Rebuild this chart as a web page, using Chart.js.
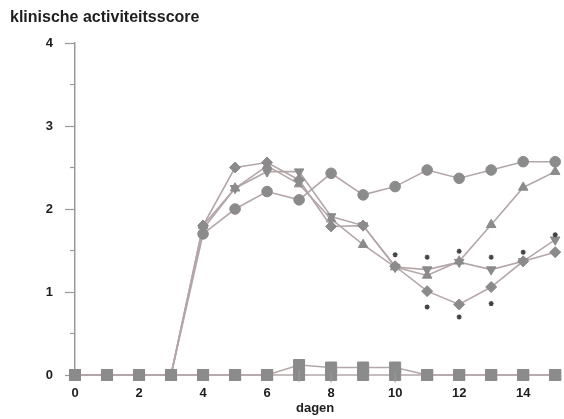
<!DOCTYPE html>
<html lang="nl">
<head>
<meta charset="utf-8">
<title>klinische activiteitsscore</title>
<script src="https://cdn.jsdelivr.net/npm/chart.js@4.4.1/dist/chart.umd.min.js"></script>
<style>
  html, body { margin: 0; padding: 0; background: #fff; }
  #wrap { position: relative; width: 564px; height: 419px; }
  #titel {
    position: absolute; left: 10px; top: 8px;
    font: bold 16px "Liberation Sans", Arial, sans-serif; color: #1e1e1e;
  }
</style>
</head>
<body>
<div id="wrap">
  <canvas id="grafiek" width="564" height="419"></canvas>
  <div id="titel">klinische activiteitsscore</div>
</div>
<script>
// Dagen (x-as)
const dagen = [0, 1, 2, 3, 4, 5, 6, 7, 8, 9, 10, 11, 12, 13, 14, 15];

// Scores per groep
const groepCirkel   = [0, 0, 0, 0, 1.70, 2.00, 2.21, 2.11, 2.43, 2.17, 2.27, 2.47, 2.37, 2.47, 2.57, 2.57];
const groepRuit     = [0, 0, 0, 0, 1.80, 2.50, 2.56, 2.35, 1.79, 1.80, 1.31, 1.01, 0.85, 1.06, 1.37, 1.48];
const groepDriehoek = [0, 0, 0, 0, 1.80, 2.25, 2.52, 2.30, 1.88, 1.57, 1.30, 1.20, 1.37, 1.81, 2.26, 2.45];
const groepOmlaag   = [0, 0, 0, 0, 1.76, 2.25, 2.45, 2.45, 1.91, 1.80, 1.30, 1.27, 1.36, 1.27, 1.37, 1.63];
const controle1     = [0, 0, 0, 0, 0, 0, 0, 0, 0, 0, 0, 0, 0, 0, 0, 0];
const controle2     = [0, 0, 0, 0, 0, 0, 0, 0.12, 0.09, 0.09, 0.09, 0, 0, 0, 0, 0];
const controle2Fout = [0, 0, 0, 0, 0, 0, 0, 0.20, 0.18, 0, 0.18, 0, 0, 0, 0, 0];

// Significantie-tekens (*)
const sterDag   = [10, 11, 12, 13, 14, 15, 11, 12, 13];
const sterScore = [1.45, 1.42, 1.49, 1.42, 1.48, 1.69, 0.82, 0.70, 0.86];

// Y-as tick labels
const yTicks = [0, 1, 2, 3, 4];

const LIJN = '#b4a6a8';
const MARKER = '#8b8b8b';
const TEKST = '#1e1e1e';
const FONT = { family: '"Liberation Sans", Arial, sans-serif', size: 13, weight: 'bold' };

function punten(waarden) {
  return dagen.map((d, i) => ({ x: d, y: waarden[i] }));
}

function reeks(waarden, stijl, straal, extra) {
  return Object.assign({
    data: punten(waarden),
    borderColor: LIJN,
    borderWidth: 1.6,
    backgroundColor: MARKER,
    pointBackgroundColor: MARKER,
    pointBorderColor: MARKER,
    pointBorderWidth: 1,
    pointStyle: stijl,
    pointRadius: straal,
    tension: 0,
    clip: false,
  }, extra || {});
}

// kleine tussenstreepjes op de y-as + foutbalken controlegroep
const extraTekenen = {
  id: 'extraTekenen',
  afterDatasetsDraw(chart) {
    const { ctx, scales: { x, y } } = chart;
    ctx.save();
    ctx.strokeStyle = '#999';
    ctx.lineWidth = 1.2;
    [0.5, 1.5, 2.5, 3.5].forEach(v => {
      const py = y.getPixelForValue(v);
      ctx.beginPath();
      ctx.moveTo(x.left - 5, py);
      ctx.lineTo(x.left, py);
      ctx.stroke();
    });
    ctx.strokeStyle = '#9a9a9a';
    controle2Fout.forEach((f, i) => {
      if (!f) return;
      const px = x.getPixelForValue(dagen[i]);
      ctx.beginPath();
      ctx.moveTo(px, y.getPixelForValue(controle2[i]) + 5);
      ctx.lineTo(px, y.getPixelForValue(controle2[i] - f));
      ctx.stroke();
    });
    ctx.restore();
  }
};

// eerste dataset komt bovenop: controles eerst zodat de vierkantjes op 0 zichtbaar zijn
new Chart(document.getElementById('grafiek'), {
  type: 'line',
  data: {
    datasets: [
      {
        type: 'scatter',
        data: sterDag.map((d, i) => ({ x: d, y: sterScore[i] })),
        showLine: false,
        pointStyle: 'star',
        pointRadius: 2.5,
        pointBorderWidth: 1.4,
        pointBorderColor: '#444',
        pointBackgroundColor: '#444',
        clip: false,
      },
      reeks(controle1, 'rect', 7.8),
      reeks(controle2, 'rect', 7.8),
      reeks(groepCirkel, 'circle', 5.3),
      reeks(groepRuit, 'rectRot', 5.5),
      reeks(groepDriehoek, 'triangle', 5.5),
      reeks(groepOmlaag, 'triangle', 5.5, { pointRotation: 180 }),
    ],
  },
  options: {
    responsive: false,
    animation: false,
    layout: { padding: { top: 43, right: 2, left: 0, bottom: 0 } },
    plugins: {
      legend: { display: false },
      tooltip: { enabled: false },
    },
    scales: {
      x: {
        type: 'linear',
        min: 0,
        max: 15,
        afterBuildTicks: (s) => { s.ticks = s.ticks.filter(t => t.value % 2 === 0); },
        afterFit: (s) => { s.height = 44; },
        ticks: { stepSize: 2, color: TEKST, font: FONT, padding: 11, maxRotation: 0 },
        grid: { display: false, drawTicks: false },
        border: { display: false },
        title: { display: true, text: 'dagen', color: TEKST, font: FONT, padding: { top: 0, bottom: 3 } },
      },
      y: {
        min: 0,
        max: 4,
        afterBuildTicks: (s) => { s.ticks = yTicks.map(v => ({ value: v })); },
        afterFit: (s) => { s.width = 75; },
        ticks: { color: TEKST, font: FONT, padding: 12 },
        grid: { drawOnChartArea: false, tickLength: 10, tickColor: '#999', tickWidth: 1.2 },
        border: { color: '#999', width: 1.5 },
      },
    },
  },
  plugins: [extraTekenen],
});
</script>
</body>
</html>
